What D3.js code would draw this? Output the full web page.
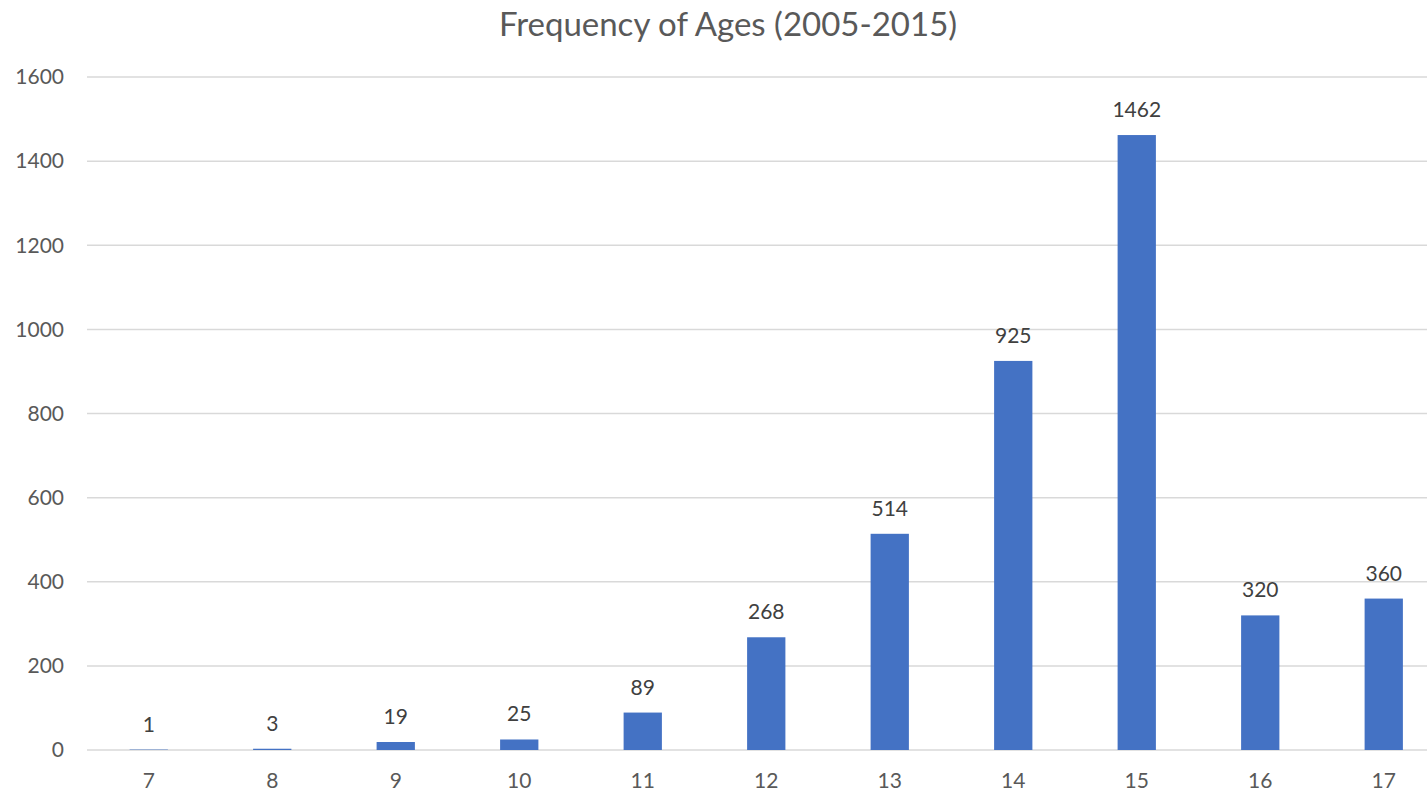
<!DOCTYPE html>
<html>
<head>
<meta charset="utf-8">
<script src="https://cdn.jsdelivr.net/npm/d3@7"></script>
<style>
  body { margin: 0; background: white; }
  svg { display: block; }
</style>
</head>
<body>
<script>
const width = 1427;
const height = 791;

const ages = ["7", "8", "9", "10", "11", "12", "13", "14", "15", "16", "17"];
const counts = [1, 3, 19, 25, 89, 268, 514, 925, 1462, 320, 360];
const yTicks = [0, 200, 400, 600, 800, 1000, 1200, 1400, 1600];

const font = "Lato, 'Open Sans', sans-serif";

const svg = d3.select("body").append("svg")
  .attr("width", width)
  .attr("height", height);

// title
svg.append("text")
  .attr("x", 728)
  .attr("y", 36)
  .attr("text-anchor", "middle")
  .attr("fill", "#595959")
  .attr("font-family", font)
  .attr("font-size", "33px")
  .text("Frequency of Ages (2005-2015)");

// plot spans past the right edge of the picture (it's cropped there)
const x = d3.scaleBand()
  .domain(ages)
  .range([87, 87 + 11 * 123.5])
  .paddingInner(0.69)
  .paddingOuter(0.345);

const y = d3.scaleLinear()
  .domain([0, 1600])
  .range([750, 77]);

// gridlines
svg.append("g")
  .selectAll("line")
  .data(yTicks)
  .join("line")
  .attr("x1", 87)
  .attr("x2", width)
  .attr("y1", d => y(d))
  .attr("y2", d => y(d))
  .attr("stroke", "#d9d9d9")
  .attr("stroke-width", 1.5);

// y axis labels
svg.append("g")
  .selectAll("text")
  .data(yTicks)
  .join("text")
  .attr("x", 64)
  .attr("y", d => y(d))
  .attr("dy", "0.35em")
  .attr("text-anchor", "end")
  .attr("fill", "#595959")
  .attr("font-family", font)
  .attr("font-size", "21px")
  .text(d => d);

// bars
svg.append("g")
  .selectAll("rect")
  .data(counts)
  .join("rect")
  .attr("x", (d, i) => x(ages[i]))
  .attr("width", x.bandwidth())
  .attr("y", d => y(d))
  .attr("height", d => y(0) - y(d))
  .attr("fill", "#4472c4");

// value labels
svg.append("g")
  .selectAll("text")
  .data(counts)
  .join("text")
  .attr("x", (d, i) => x(ages[i]) + x.bandwidth() / 2)
  .attr("y", d => y(d) - 18)
  .attr("text-anchor", "middle")
  .attr("fill", "#404040")
  .attr("font-family", font)
  .attr("font-size", "21px")
  .text(d => d);

// x axis labels
svg.append("g")
  .selectAll("text")
  .data(ages)
  .join("text")
  .attr("x", d => x(d) + x.bandwidth() / 2)
  .attr("y", 788)
  .attr("text-anchor", "middle")
  .attr("fill", "#595959")
  .attr("font-family", font)
  .attr("font-size", "21px")
  .text(d => d);
</script>
</body>
</html>
